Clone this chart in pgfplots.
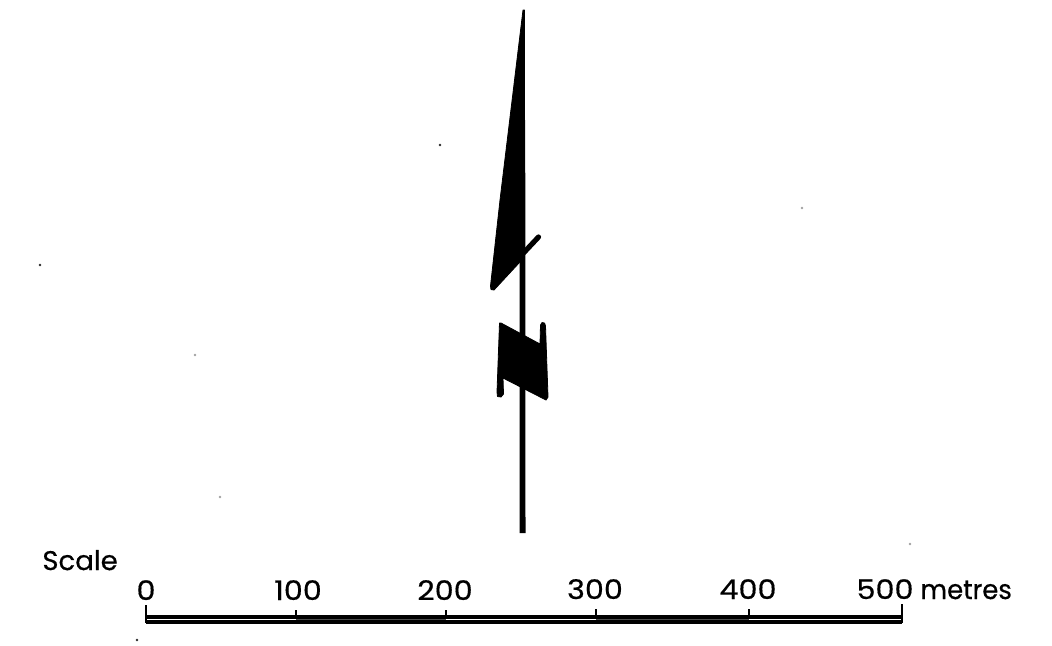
\documentclass[border=0pt]{standalone}
\usepackage{fontspec}
\setmainfont[FakeStretch=0.96,FakeBold=0.5]{Poppins}
\newfontfamily\numfont[FakeStretch=1.12,FakeBold=0.5]{Poppins}
\newfontfamily\scalefont[FakeStretch=1.02,FakeBold=0.5]{Poppins}
\usepackage{pgfplots}
\pgfplotsset{compat=1.18}
\tikzset{lab/.style={font=\fontsize{13.5}{16}\selectfont, inner sep=0pt}}
\begin{document}
\begin{tikzpicture}
\begin{axis}[
    scale only axis,
    width=526pt, height=322.5pt,
    xmin=0, xmax=1052,
    ymin=0, ymax=645,
    y dir=reverse,
    hide axis,
    clip=false,
]
% keeps the page as large as the reference
\path (axis cs:0,0) rectangle (axis cs:1052,645);

% stem
\addplot[black, line width=2.9pt, forget plot] coordinates {(522.3,120) (522.6,533)};

% upper blade
\addplot[fill=black, draw=black, line width=0.4pt, line join=round] coordinates {
    (523,10) (524.5,10) (524.5,255) (519,263) (494,290) (491,289.5) (490.5,286) (500,200)
} -- cycle;
% small barb
\addplot[black, line width=2.6pt, line cap=round] coordinates {(523,253.5) (538.5,237)};

% lower block with its two spurs
\addplot[fill=black, draw=black, line width=0.4pt, line join=round] coordinates {
    (499.5,323) (501,323) (540,344) (540.5,325) (542,322.5) (544.5,323) (545.5,326)
    (548,397) (546,400) (503,378) (503.5,394) (501,397) (497.5,396.5) (497,392)
} -- cycle;

% scale bar, lines and ticks
\addplot[black, line width=1.6pt] coordinates {(146,617) (902,617)};
\addplot[black, line width=1.6pt] coordinates {(146,622) (902,622)};
\addplot[black!70, line width=0.7pt] coordinates {(296,619.7) (446,619.7)};
\addplot[black!70, line width=0.7pt] coordinates {(596,619.7) (749,619.7)};
\addplot[black, line width=1.2pt] coordinates {(146,605) (146,623)};
\addplot[black, line width=1.2pt] coordinates {(296,610) (296,618)};
\addplot[black, line width=1.2pt] coordinates {(446,610) (446,618)};
\addplot[black, line width=1.2pt] coordinates {(596,609) (596,618)};
\addplot[black, line width=1.2pt] coordinates {(749,609) (749,618)};
\addplot[black, line width=1.2pt] coordinates {(902,604) (902,623)};

% specks on the scan
\addplot[only marks, mark=*, mark size=0.45pt, black!80] coordinates {(440,145) (40,265) (137,640)};
\addplot[only marks, mark=*, mark size=0.4pt, black!35] coordinates {(802,208) (195,355) (220,497) (910,544)};

\node[lab, anchor=base west] at (axis cs:42,570) {\scalefont Scale};
\node[lab, anchor=base] at (axis cs:146,600) {\numfont 0};
\node[lab, anchor=base] at (axis cs:298,600) {\numfont 100};
\node[lab, anchor=base] at (axis cs:445,600) {\numfont 200};
\node[lab, anchor=base] at (axis cs:595,599) {\numfont 300};
\node[lab, anchor=base] at (axis cs:748,599) {\numfont 400};
\node[lab, anchor=base] at (axis cs:885,599) {\numfont 500};
\node[lab, anchor=base west] at (axis cs:920,599) {metres};
\end{axis}
\end{tikzpicture}
\end{document}
